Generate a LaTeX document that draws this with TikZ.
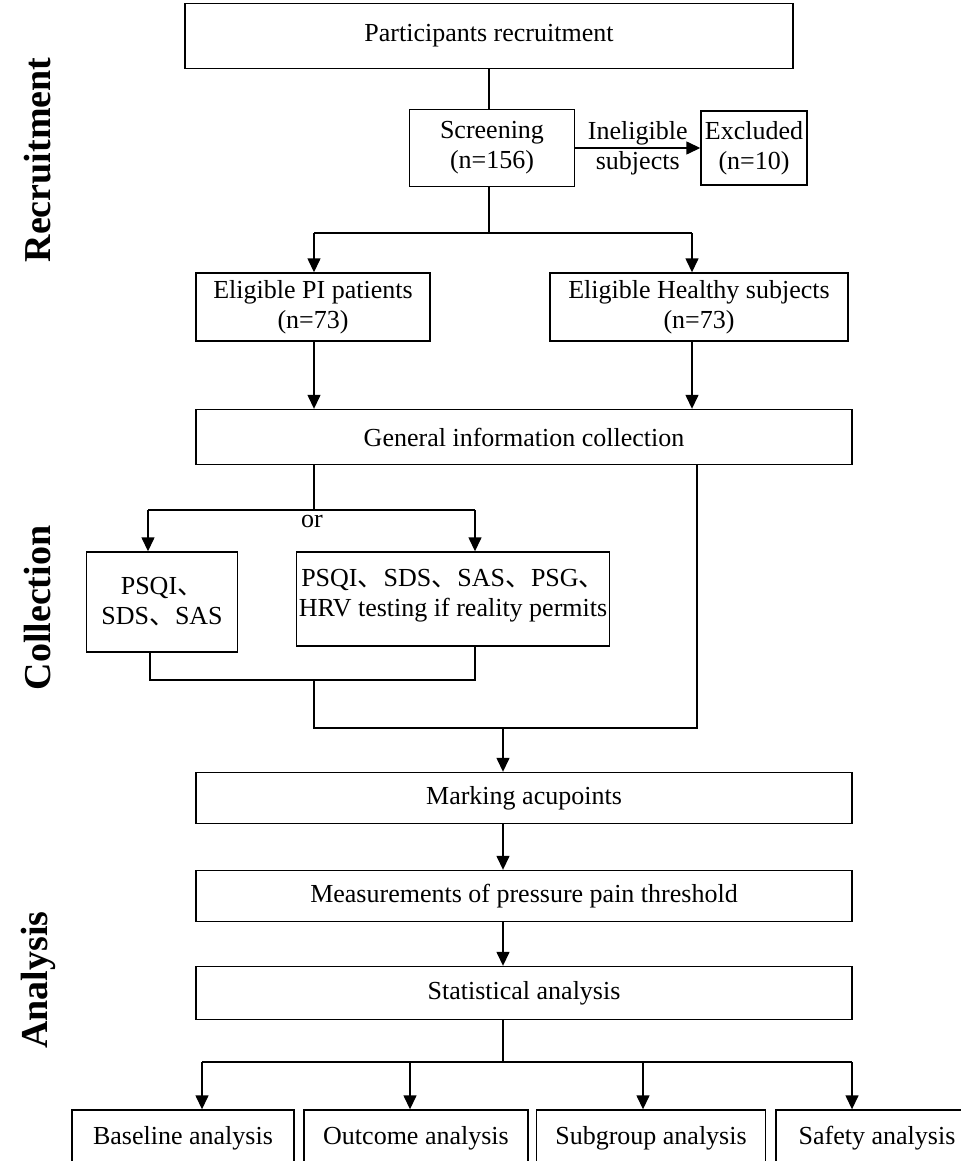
\documentclass[tikz,border=0pt]{standalone}
\usepackage{fontspec}
\setmainfont{Liberation Serif}
\newfontfamily\cjk{Noto Sans CJK SC}
\usepackage{tikz}
\usetikzlibrary{
	arrows.meta,
	positioning,
	calc
}
\newcommand{\dun}{{\cjk 、}}

\begin{document}
\begin{tikzpicture}[
		x=0.5pt, y=-0.5pt,
		>={Triangle[length=7pt,width=6.5pt]},
		line width=0.7pt,
		txt/.style={
			align=center,
			font=\fontsize{13}{15}\selectfont
		},
		box/.style={
			txt,
			draw,
			inner sep=0pt
		},
		wide/.style={
			box,
			minimum width=328pt
		},
		stage/.style={
			rotate=90,
			font=\fontsize{19}{22}\selectfont\bfseries
		}
		]
		\useasboundingbox (0,0) rectangle (961,1161);
		
		% Recruitment
		\node[box, minimum width=304pt, minimum height=32.5pt] (recruit) at (489,36) {Participants recruitment};
		\node[box, minimum width=82.5pt, minimum height=38.5pt] (screen) at (492,148) {Screening\\(n=156)};
		\node[box, minimum width=53pt, minimum height=37pt] (excl) at (754,148) {Excluded\\(n=10)};
		\node[box, minimum width=117pt, minimum height=34pt] (pi) at (313,307) {Eligible PI patients\\(n=73)};
		\node[box, minimum width=149pt, minimum height=34pt] (healthy) at (699,307) {Eligible Healthy subjects\\(n=73)};
		
		% Collection
		\node[wide, minimum height=27.5pt] (gic) at (524,437) {General information collection};
		\node[box, minimum width=75.5pt, minimum height=50pt] (scaleA) at (162,602) {PSQI\dun\\SDS\dun SAS};
		\node[box, minimum width=156.5pt, minimum height=47pt] (scaleB) at (453,599) {PSQI\dun SDS\dun SAS\dun PSG\dun\\HRV testing if reality permits\\[-9pt]\mbox{}};
		
		% Analysis
		\node[wide, minimum height=25.5pt] (mark) at (524,798) {Marking acupoints};
		\node[wide, minimum height=25.5pt] (meas) at (524,896) {Measurements of pressure pain threshold};
		\node[wide, minimum height=26.5pt] (stat) at (524,993) {Statistical analysis};
		\node[box, minimum width=111pt, minimum height=28pt] (base) at (183,1138) {Baseline analysis};
		\node[box, minimum width=112pt, minimum height=28pt] (outc) at (416,1138) {Outcome analysis};
		\node[box, minimum width=114.5pt, minimum height=28pt] (subg) at (651,1138) {Subgroup analysis};
		\node[box, minimum width=101pt, minimum height=28pt] (safe) at (877,1138) {Safety analysis};
		
		% Stage labels
		\node[stage] (lab1) at (38,160) {Recruitment};
		\node[stage] (lab2) at (38,608) {Collection};
		\node[stage] (lab3) at (38,980) {Analysis};
		
		% Connections: recruitment
		\coordinate (s1) at (489,233);
		\coordinate (l1) at (314,233);
		\coordinate (r1) at (692,233);
		\draw (recruit.south -| s1) -- (s1 |- screen.north);
		\draw (s1 |- screen.south) -- (s1);
		\draw[->] (screen.east) -- (excl.west);
		\node[txt] (why) at ($(screen.east)!0.5!(excl.west)$) {Ineligible\\subjects};
		\draw (l1) -- (r1);
		\draw[->] (l1) -- (l1 |- pi.north);
		\draw[->] (r1) -- (r1 |- healthy.north);
		\draw[->] (l1 |- pi.south) -- (l1 |- gic.north);
		\draw[->] (r1 |- healthy.south) -- (r1 |- gic.north);
		
		% Connections: collection
		\coordinate (m2) at (314,510);
		\coordinate (l2) at (148,510);
		\coordinate (r2) at (475,510);
		\draw (m2 |- gic.south) -- (m2);
		\draw (l2) -- (r2);
		\node[txt] (or) at (312,521) {or};
		\draw[->] (l2) -- (l2 |- scaleA.north);
		\draw[->] (r2) -- (r2 |- scaleB.north);
		\coordinate (l3) at (150,680);
		\coordinate (r3) at (475,680);
		\coordinate (m3) at (314,680);
		\coordinate (m4) at (314,728);
		\coordinate (r4) at (697,728);
		\coordinate (c4) at (503,728);
		\draw (l3 |- scaleA.south) -- (l3) -- (r3) -- (r3 |- scaleB.south);
		\draw (m3) -- (m4) -- (r4) -- (r4 |- gic.south);
		\draw[->] (c4) -- (c4 |- mark.north);
		
		% Connections: analysis
		\draw[->] (c4 |- mark.south) -- (c4 |- meas.north);
		\draw[->] (c4 |- meas.south) -- (c4 |- stat.north);
		\coordinate (c5) at (503,1062);
		\draw (c4 |- stat.south) -- (c5);
		\draw (202,1062) coordinate (a-base) -- (852,1062) coordinate (a-safe);
		\coordinate (a-outc) at (410,1062);
		\coordinate (a-subg) at (643,1062);
		\foreach \n in {base,outc,subg,safe}
		\draw[->] (a-\n) -- (a-\n |- \n.north);
		
	\end{tikzpicture}
\end{document}
